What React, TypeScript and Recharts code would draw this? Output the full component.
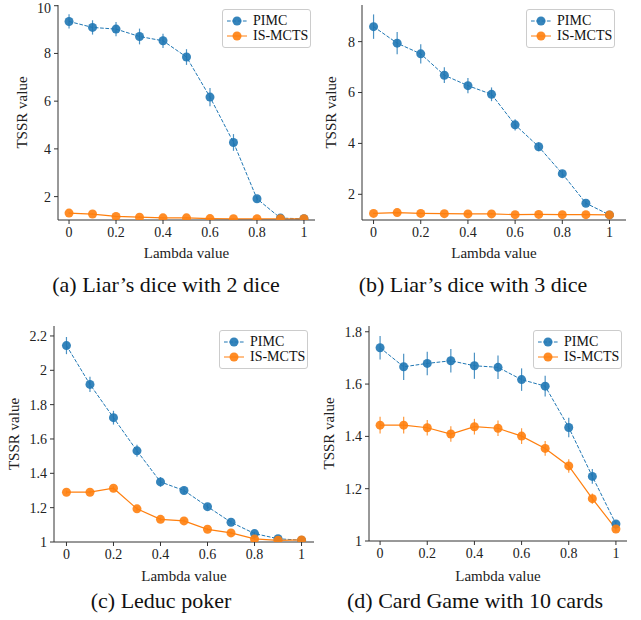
import React from 'react';
import { LineChart, Line, XAxis, YAxis, ErrorBar, Legend } from 'recharts';

// lambda values on the x axis (shared by all panels)
const lambdas = [0, 0.1, 0.2, 0.3, 0.4, 0.5, 0.6, 0.7, 0.8, 0.9, 1];
const xTicks = [0, 0.2, 0.4, 0.6, 0.8, 1];

// (a) Liar's dice with 2 dice
const liar2Pimc = [9.34, 9.09, 9.02, 8.71, 8.53, 7.85, 6.17, 4.27, 1.91, 1.1, 1.07];
const liar2PimcErr = [0.3, 0.3, 0.3, 0.33, 0.3, 0.33, 0.38, 0.35, 0.12, 0.04, 0.03];
const liar2Is = [1.31, 1.27, 1.17, 1.14, 1.11, 1.11, 1.08, 1.07, 1.07, 1.07, 1.07];
const liar2IsErr = [0.03, 0.03, 0.03, 0.03, 0.02, 0.02, 0.02, 0.02, 0.02, 0.02, 0.02];
const liar2Ticks = [2, 4, 6, 8, 10];

// (b) Liar's dice with 3 dice
const liar3Pimc = [8.59, 7.94, 7.52, 6.68, 6.27, 5.93, 4.73, 3.87, 2.81, 1.65, 1.19];
const liar3PimcErr = [0.48, 0.44, 0.38, 0.31, 0.3, 0.27, 0.22, 0.18, 0.14, 0.1, 0.05];
const liar3Is = [1.25, 1.28, 1.25, 1.24, 1.23, 1.23, 1.2, 1.21, 1.2, 1.2, 1.19];
const liar3IsErr = [0.03, 0.03, 0.03, 0.03, 0.03, 0.03, 0.03, 0.03, 0.03, 0.03, 0.03];
const liar3Ticks = [2, 4, 6, 8];

// (c) Leduc poker
const leducPimc = [2.144, 1.918, 1.724, 1.531, 1.35, 1.3, 1.206, 1.115, 1.049, 1.019, 1.01];
const leducPimcErr = [0.05, 0.045, 0.04, 0.035, 0.028, 0.02, 0.015, 0.012, 0.01, 0.008, 0.006];
const leducIs = [1.29, 1.29, 1.313, 1.193, 1.132, 1.123, 1.074, 1.053, 1.018, 1.01, 1.012];
const leducIsErr = [0.01, 0.01, 0.012, 0.012, 0.01, 0.01, 0.008, 0.008, 0.006, 0.005, 0.005];
const leducTicks = [1, 1.2, 1.4, 1.6, 1.8, 2, 2.2];

// (d) Card Game with 10 cards
const cardPimc = [1.739, 1.666, 1.679, 1.689, 1.67, 1.664, 1.617, 1.592, 1.434, 1.247, 1.065];
const cardPimcErr = [0.045, 0.05, 0.045, 0.045, 0.05, 0.045, 0.043, 0.04, 0.037, 0.028, 0.012];
const cardIs = [1.443, 1.443, 1.433, 1.409, 1.437, 1.431, 1.401, 1.354, 1.287, 1.162, 1.046];
const cardIsErr = [0.032, 0.032, 0.03, 0.03, 0.03, 0.03, 0.03, 0.028, 0.026, 0.02, 0.01];
const cardTicks = [1, 1.2, 1.4, 1.6, 1.8];

const BLUE = '#1f77b4';
const ORANGE = '#ff7f0e';
const FONT = 'Liberation Serif, Times New Roman, serif';

const fmt = (v: number) => String(Number(v.toFixed(2)));

const rows = (pimc: number[], pimcErr: number[], is: number[], isErr: number[]) =>
  lambdas.map((x, i) => ({ x, pimc: pimc[i], pimcErr: pimcErr[i], is: is[i], isErr: isErr[i] }));

const legendEntries = [
  { name: 'PIMC', color: BLUE, dash: '3.7 1.6' },
  { name: 'IS-MCTS', color: ORANGE, dash: undefined },
];

const LegendBox = () => (
  <div
    style={{
      width: 89,
      height: 39,
      boxSizing: 'border-box',
      border: '1px solid #cccccc',
      borderRadius: 3,
      background: 'rgba(255,255,255,0.8)',
      padding: '3px 0 0 4px',
      fontFamily: FONT,
      fontSize: 14,
      color: '#111',
      whiteSpace: 'nowrap',
    }}
  >
    {legendEntries.map((e) => (
      <div key={e.name} style={{ display: 'flex', alignItems: 'center', height: 15 }}>
        <svg width={20} height={12} style={{ display: 'block', flexShrink: 0 }}>
          <line x1={0} x2={20} y1={6} y2={6} stroke={e.color} strokeWidth={1} strokeDasharray={e.dash} />
          <circle cx={10} cy={6} r={4.5} fill={e.color} fillOpacity={0.9} />
        </svg>
        <span style={{ marginLeft: 6, lineHeight: '15px', whiteSpace: 'nowrap' }}>{e.name}</span>
      </div>
    ))}
  </div>
);

const panels = [
  {
    key: 'a', left: 0, top: 0, width: 320, height: 270,
    margin: { top: 5, right: 5, left: 0, bottom: 12 }, yWidth: 58, xHeight: 38, yLabelOffset: 22,
    xDomain: [-0.047, 1.047], yDomain: [1.02, 10.03], yTicks: liar2Ticks,
    data: rows(liar2Pimc, liar2PimcErr, liar2Is, liar2IsErr),
    legend: { left: 222, top: 9 },
    caption: '(a) Liar’s dice with 2 dice', cx: 166, cy: 285,
  },
  {
    key: 'b', left: 320, top: 0, width: 321, height: 270,
    margin: { top: 5, right: 15, left: 0, bottom: 12 }, yWidth: 42, xHeight: 38, yLabelOffset: 10.5,
    xDomain: [-0.049, 1.07], yDomain: [0.99, 9.44], yTicks: liar3Ticks,
    data: rows(liar3Pimc, liar3PimcErr, liar3Is, liar3IsErr),
    legend: { left: 206, top: 9 },
    caption: '(b) Liar’s dice with 3 dice', cx: 473, cy: 285,
  },
  {
    key: 'c', left: 0, top: 300, width: 320, height: 290,
    margin: { top: 26, right: 6, left: 0, bottom: 9 }, yWidth: 54, xHeight: 39, yLabelOffset: 13.7,
    xDomain: [-0.053, 1.053], yDomain: [1.0, 2.258], yTicks: leducTicks,
    data: rows(leducPimc, leducPimcErr, leducIs, leducIsErr),
    legend: { left: 219, top: 30 },
    caption: '(c) Leduc poker', cx: 161, cy: 601,
  },
  {
    key: 'd', left: 320, top: 300, width: 321, height: 290,
    margin: { top: 26, right: 14, left: 0, bottom: 9 }, yWidth: 49, xHeight: 40, yLabelOffset: 8.3,
    xDomain: [-0.047, 1.047], yDomain: [1.0, 1.822], yTicks: cardTicks,
    data: rows(cardPimc, cardPimcErr, cardIs, cardIsErr),
    legend: { left: 213, top: 30 },
    caption: '(d) Card Game with 10 cards', cx: 475, cy: 601,
  },
];

const tickStyle = { fontSize: 14, fill: '#222', fontFamily: FONT };
const labelStyle = { fontSize: 15, fill: '#222', fontFamily: FONT };
const spine = { stroke: '#333', strokeWidth: 1 };

export default function App() {
  return (
    <div style={{ position: 'absolute', left: 0, top: 0, width: 641, height: 620, background: '#fff' }}>
      {panels.map((p) => (
        <div key={p.key} style={{ position: 'absolute', left: p.left, top: p.top }}>
          <LineChart width={p.width} height={p.height} data={p.data} margin={p.margin}>
            <XAxis
              dataKey="x"
              type="number"
              domain={p.xDomain}
              ticks={xTicks}
              tickFormatter={fmt}
              allowDataOverflow
              height={p.xHeight}
              tickSize={4}
              tickMargin={3}
              tick={tickStyle}
              tickLine={spine}
              axisLine={spine}
              label={{ value: 'Lambda value', position: 'insideBottom', offset: 0, style: labelStyle }}
            />
            <XAxis xAxisId="top" orientation="top" dataKey="x" type="number" domain={p.xDomain}
              allowDataOverflow height={0} tick={false} tickLine={false} axisLine={spine} />
            <YAxis
              type="number"
              domain={p.yDomain}
              ticks={p.yTicks}
              tickFormatter={fmt}
              allowDataOverflow
              width={p.yWidth}
              tickSize={4}
              tickMargin={3}
              tick={tickStyle}
              tickLine={spine}
              axisLine={spine}
              label={{
                value: 'TSSR value', angle: -90, position: 'insideLeft', offset: p.yLabelOffset,
                style: { ...labelStyle, textAnchor: 'middle' },
              }}
            />
            <YAxis yAxisId="right" orientation="right" type="number" domain={p.yDomain}
              allowDataOverflow width={0} tick={false} tickLine={false} axisLine={spine} />
            <Legend
              layout="horizontal"
              verticalAlign="middle"
              align="center"
              content={<LegendBox />}
              wrapperStyle={{ left: p.legend.left, top: p.legend.top, width: 89, height: 39 }}
            />
            <Line
              dataKey="pimc"
              name="PIMC"
              stroke={BLUE}
              strokeWidth={1}
              strokeDasharray="3.7 1.6"
              dot={{ r: 4.5, fill: BLUE, fillOpacity: 0.9, stroke: 'none' }}
              activeDot={false}
              isAnimationActive={false}
            >
              <ErrorBar dataKey="pimcErr" direction="y" width={0} stroke={BLUE} strokeWidth={1.2} strokeOpacity={0.8} />
            </Line>
            <Line
              dataKey="is"
              name="IS-MCTS"
              stroke={ORANGE}
              strokeWidth={1.2}
              dot={{ r: 4.5, fill: ORANGE, fillOpacity: 0.9, stroke: 'none' }}
              activeDot={false}
              isAnimationActive={false}
            >
              <ErrorBar dataKey="isErr" direction="y" width={0} stroke={ORANGE} strokeWidth={1.2} strokeOpacity={0.8} />
            </Line>
          </LineChart>
        </div>
      ))}
      {panels.map((p) => (
        <div
          key={'cap' + p.key}
          style={{
            position: 'absolute',
            left: p.cx - 160,
            width: 320,
            top: p.cy - 12,
            height: 24,
            lineHeight: '24px',
            textAlign: 'center',
            fontFamily: FONT,
            fontSize: 22,
            color: '#111',
            whiteSpace: 'nowrap',
          }}
        >
          {p.caption}
        </div>
      ))}
    </div>
  );
}
